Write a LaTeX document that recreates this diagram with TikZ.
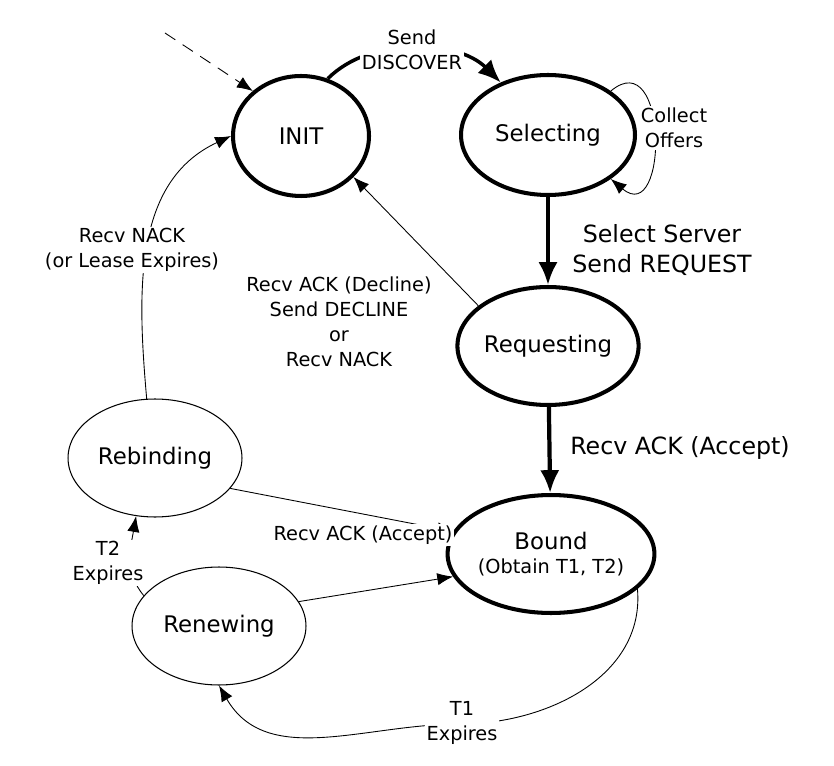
\documentclass[tikz,border=0pt]{standalone}
\usepackage{fontspec}
\setmainfont{DejaVu Sans}
\usetikzlibrary{shapes.geometric,arrows.meta}
\tikzset{
  state/.style={ellipse,draw,inner sep=0pt,font=\fontsize{13}{15}\selectfont,
    minimum width=3.48cm,minimum height=2.36cm},
  thickstate/.style={state,line width=2.3pt},
  thinstate/.style={state,line width=0.6pt},
  trans/.style={-{Latex[length=9pt,width=7pt]},line width=0.5pt},
  bigtrans/.style={-{Latex[length=13pt,width=11pt]},line width=2.4pt},
  lbl/.style={align=center,fill=white,inner sep=1pt,font=\fontsize{11}{14.2}\selectfont},
  biglbl/.style={align=center,fill=white,inner sep=1pt,font=\fontsize{13.5}{17}\selectfont}
}
\begin{document}
\begin{tikzpicture}[x=0.02cm,y=-0.02cm]
\useasboundingbox (0,0) rectangle (834,766);
% states
\node[thickstate,minimum width=2.72cm,minimum height=2.4cm] (init) at (301,136) {INIT};
\node[thickstate,minimum height=2.4cm] (selecting) at (548,135) {Selecting};
\node[thickstate] (requesting) at (548,346) {Requesting};
\node[thickstate,align=center] (bound) at (551,554) {Bound\\[-1pt]{\fontsize{11}{13}\selectfont(Obtain T1, T2)}};
\node[thinstate] (rebinding) at (155,458) {Rebinding};
\node[thinstate] (renewing) at (219,626) {Renewing};
\coordinate (start) at (165,33);
\coordinate (t1mid) at (460,724);
% transitions
\draw[trans,dashed,dash pattern=on 7pt off 5pt] (start) -- (init.137);
\draw[bigtrans,line width=2pt] (init.65) to[out=45,in=135,looseness=0.9] (selecting.132);
\draw[trans] (selecting.35) to[out=40,in=-40,looseness=2.2] (selecting.-35);
\draw[bigtrans] (selecting) -- (requesting);
\draw[trans] (requesting.150) -- (init.-38);
\draw[bigtrans] (requesting) -- (bound);
\draw[trans] (rebinding.-22) -- (bound.167);
\draw[trans] (renewing.17) -- (bound.193);
\draw[trans] (renewing.158) to[out=130,in=-100] (rebinding.-108);
\draw[trans] (rebinding.98) to[out=95,in=205] (init.180);
\draw[trans] (bound.-22) to[out=-85,in=0] (t1mid) to[out=180,in=-60] (renewing.-90);
% labels
\node[lbl] at (412,50) {Send\\DISCOVER};
\node[lbl] at (674,128) {Collect\\Offers};
\node[biglbl] at (662,250) {Select Server\\Send REQUEST};
\node[lbl] at (339,322) {Recv ACK (Decline)\\Send DECLINE\\or\\Recv NACK};
\node[biglbl] at (680,448) {Recv ACK (Accept)};
\node[lbl] at (363,535) {Recv ACK (Accept)};
\node[lbl] at (108,563) {T2\\Expires};
\node[lbl] at (132,250) {Recv NACK\\(or Lease Expires)};
\node[lbl] at (462,723) {T1\\Expires};
\end{tikzpicture}
\end{document}
